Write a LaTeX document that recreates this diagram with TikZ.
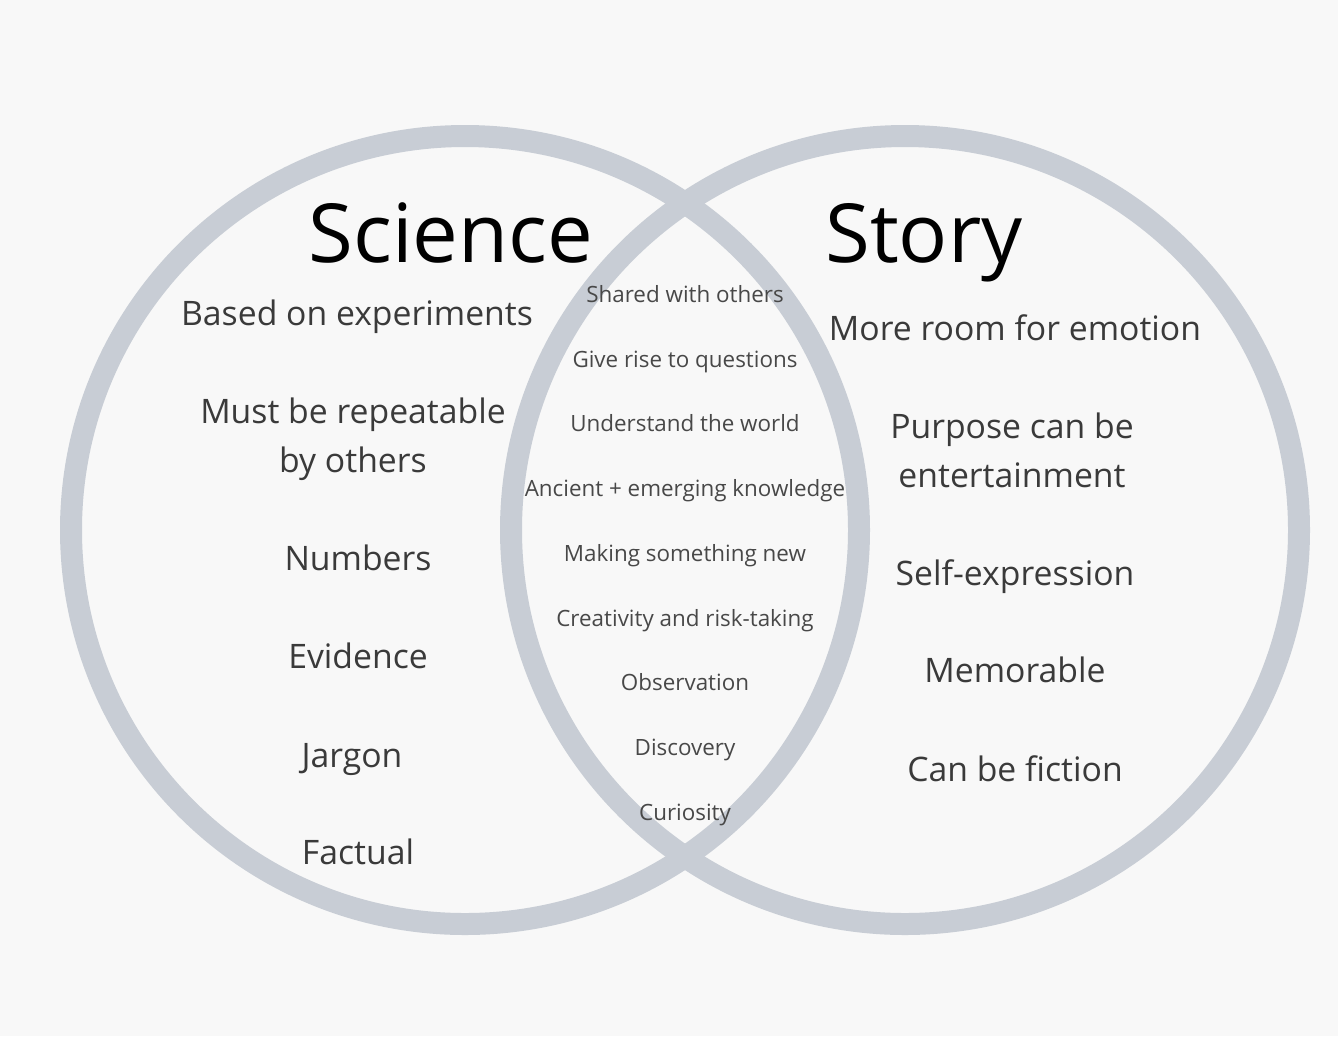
\documentclass[tikz,border=0pt]{standalone}
\usepackage{fontspec}
\setmainfont{Open Sans}
\definecolor{Fondo}{RGB}{248, 248, 248}
\definecolor{Anillo}{RGB}{200, 205, 213}
\definecolor{Texto}{RGB}{58, 58, 58}
\definecolor{Medio}{RGB}{72, 72, 72}

\begin{document}
\begin{tikzpicture}[x=0.02cm, y=-0.02cm,
        ring/.style={draw=Anillo, line width=0.44cm},
        title/.style={anchor=base, inner sep=0pt, text=black, font=\fontsize{46.4}{56}\selectfont},
        item/.style={anchor=base, inner sep=0pt, text=Texto, align=center, font=\fontsize{19.2}{27.8}\selectfont},
        shared/.style={anchor=base, inner sep=0pt, text=Medio, align=center, font=\fontsize{12.75}{16}\selectfont}
    ]
        % ================= FONDO =================
        \fill[Fondo] (0, 0) rectangle (1338, 1036);
        \useasboundingbox (0, 0) rectangle (1338, 1036);

        % ================= CIRCULOS =================
        \coordinate (c_science) at (465, 530);
        \coordinate (c_story) at (905, 530);
        \draw[ring] (c_science) circle (394);
        \draw[ring] (c_story) circle (394);

        % ================= TITULOS =================
        \node[title] (science) at (451, 262) {Science};
        \node[title] (story) at (924, 262) {Story};

        % ================= CIENCIA (IZQUIERDA) =================
        \node[item] (experiments) at (357, 325) {Based on experiments};
        \node[item] (repeatable) at (353, 472) {Must be repeatable\\by others};
        \node[item] (numbers) at (358, 570) {Numbers};
        \node[item] (evidence) at (358, 668) {Evidence};
        \node[item] (jargon) at (352, 767) {Jargon};
        \node[item] (factual) at (358, 864) {Factual};

        % ================= HISTORIA (DERECHA) =================
        \node[item] (emotion) at (1015, 340) {More room for emotion};
        \node[item] (purpose) at (1012, 487) {Purpose can be\\entertainment};
        \node[item] (selfexp) at (1015, 585) {Self-expression};
        \node[item] (memorable) at (1015, 682) {Memorable};
        \node[item] (fiction) at (1015, 781) {Can be fiction};

        % ================= COMPARTIDO (CENTRO) =================
        \node[shared] (others) at (685, 302) {Shared with others};
        \node[shared] (questions) at (685, 367) {Give rise to questions};
        \node[shared] (world) at (685, 431) {Understand the world};
        \node[shared] (knowledge) at (685, 496) {Ancient + emerging knowledge};
        \node[shared] (newthing) at (685, 561) {Making something new};
        \node[shared] (creativity) at (685, 626) {Creativity and risk-taking};
        \node[shared] (observation) at (685, 690) {Observation};
        \node[shared] (discovery) at (685, 755) {Discovery};
        \node[shared] (curiosity) at (685, 820) {Curiosity};
    \end{tikzpicture}
\end{document}
